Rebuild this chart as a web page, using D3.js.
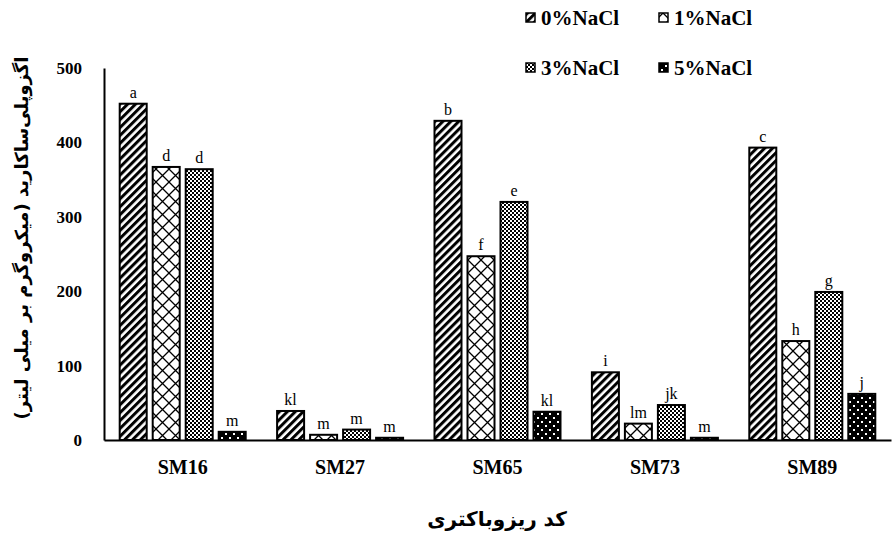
<!DOCTYPE html>
<html><head><meta charset="utf-8">
<script src="https://cdn.jsdelivr.net/npm/d3@7"></script>
<style>body{margin:0;background:#fff}svg{display:block}</style>
</head><body>
<script>
const categories = ["SM16","SM27","SM65","SM73","SM89"];
const series = ["0%NaCl","1%NaCl","3%NaCl","5%NaCl"];
const values0 = [452, 39, 429, 91, 393];
const values1 = [367, 7, 247, 22, 133];
const values3 = [364, 14, 320, 47, 199];
const values5 = [11, 3, 38, 3, 62];
const letters0 = ["a","kl","b","i","c"];
const letters1 = ["d","m","f","lm","h"];
const letters3 = ["d","m","e","jk","g"];
const letters5 = ["m","m","kl","m","j"];
const yTicks = [0,100,200,300,400,500];
const yTitle = "اگزوپلی‌ساکارید (میکروگرم بر میلی لیتر)";
const xTitle = "کد ریزوباکتری";

const W = 895, H = 534;
const serif = "'Liberation Serif', 'Times New Roman', serif";
const svg = d3.select("body").append("svg").attr("width", W).attr("height", H);
const defs = svg.append("defs");

// patterns
const p0 = defs.append("pattern").attr("id","pat0").attr("patternUnits","userSpaceOnUse")
  .attr("width",5.6).attr("height",5.6).attr("patternTransform","rotate(45)");
p0.append("rect").attr("width",5.6).attr("height",5.6).attr("fill","#fff");
p0.append("rect").attr("width",3).attr("height",5.6).attr("fill","#000");

const p1 = defs.append("pattern").attr("id","pat1").attr("patternUnits","userSpaceOnUse")
  .attr("width",13).attr("height",13);
p1.append("rect").attr("width",13).attr("height",13).attr("fill","#fff");
p1.append("path").attr("d","M0,0L13,13M13,0L0,13").attr("stroke","#000").attr("stroke-width",1.3);

const p3 = defs.append("pattern").attr("id","pat3").attr("patternUnits","userSpaceOnUse")
  .attr("width",4).attr("height",4);
p3.append("rect").attr("width",4).attr("height",4).attr("fill","#fff");
p3.append("rect").attr("width",2).attr("height",2).attr("fill","#000");
p3.append("rect").attr("x",2).attr("y",2).attr("width",2).attr("height",2).attr("fill","#000");

const p5 = defs.append("pattern").attr("id","pat5").attr("patternUnits","userSpaceOnUse")
  .attr("width",8).attr("height",8);
p5.append("rect").attr("width",8).attr("height",8).attr("fill","#000");
p5.append("rect").attr("x",1).attr("y",1).attr("width",2).attr("height",2).attr("fill","#fff");
p5.append("rect").attr("x",5).attr("y",5).attr("width",2).attr("height",2).attr("fill","#fff");

const fills = ["url(#pat0)","url(#pat1)","url(#pat3)","url(#pat5)"];
const valueSets = [values0, values1, values3, values5];
const letterSets = [letters0, letters1, letters3, letters5];

const x0 = d3.scaleBand().domain(categories).range([104, 891]).padding(0);
const bw = x0.bandwidth();
const x1 = d3.scaleBand().domain(series).range([(bw-126)/2, (bw+126)/2]).paddingInner(6/33).paddingOuter(0);
const y = d3.scaleLinear().domain([0,500]).range([440, 68]);

// bars
const g = svg.append("g");
categories.forEach((c, ci) => {
  series.forEach((s, si) => {
    const v = valueSets[si][ci];
    const bx = x0(c) + x1(s);
    g.append("rect").attr("x", bx).attr("y", y(v)).attr("width", x1.bandwidth())
      .attr("height", y(0) - y(v)).attr("fill", fills[si])
      .attr("stroke","#000").attr("stroke-width",2);
    g.append("text").attr("x", bx + x1.bandwidth()/2).attr("y", y(v) - 6)
      .attr("text-anchor","middle").style("font-family", serif)
      .style("font-size","16px").attr("fill","#000").text(letterSets[si][ci]);
  });
});

// axes
const yAxis = svg.append("g").attr("transform","translate(104,0)")
  .call(d3.axisLeft(y).tickValues(yTicks).tickSize(0).tickPadding(22).tickFormat(d3.format("d")));
yAxis.select(".domain").attr("stroke","#000").attr("stroke-width",2);
yAxis.selectAll("text").style("font-family", serif)
  .style("font-size","17px").style("font-weight","bold").attr("fill","#000");

const xAxis = svg.append("g").attr("transform","translate(0,440)")
  .call(d3.axisBottom(x0).tickSize(0).tickPadding(20));
xAxis.select(".domain").attr("stroke","#000").attr("stroke-width",2);
xAxis.selectAll("text").style("font-family", serif)
  .style("font-size","20px").style("font-weight","bold").attr("fill","#000");

// titles
svg.append("text").attr("transform","translate(28,238) rotate(-90)")
  .attr("text-anchor","middle").style("font-family","'DejaVu Sans', sans-serif")
  .style("font-weight","bold").style("font-size","18px").attr("direction","rtl").text(yTitle);
svg.append("text").attr("x",497).attr("y",526)
  .attr("text-anchor","middle").style("font-family","'DejaVu Sans', sans-serif")
  .style("font-weight","bold").style("font-size","20px").attr("direction","rtl").text(xTitle);

// legend
const legPos = [[526,18],[659,18],[526,68],[659,68]];
series.forEach((s, i) => {
  const [lx, ly] = legPos[i];
  svg.append("rect").attr("x", lx).attr("y", ly-5).attr("width",9).attr("height",9)
    .attr("fill", fills[i]).attr("stroke","#000").attr("stroke-width",1.5);
  svg.append("text").attr("x", lx+15).attr("y", ly+7)
    .style("font-family", serif)
    .style("font-size","21px").style("font-weight","bold").attr("fill","#000").text(s);
});
</script>
</body></html>
